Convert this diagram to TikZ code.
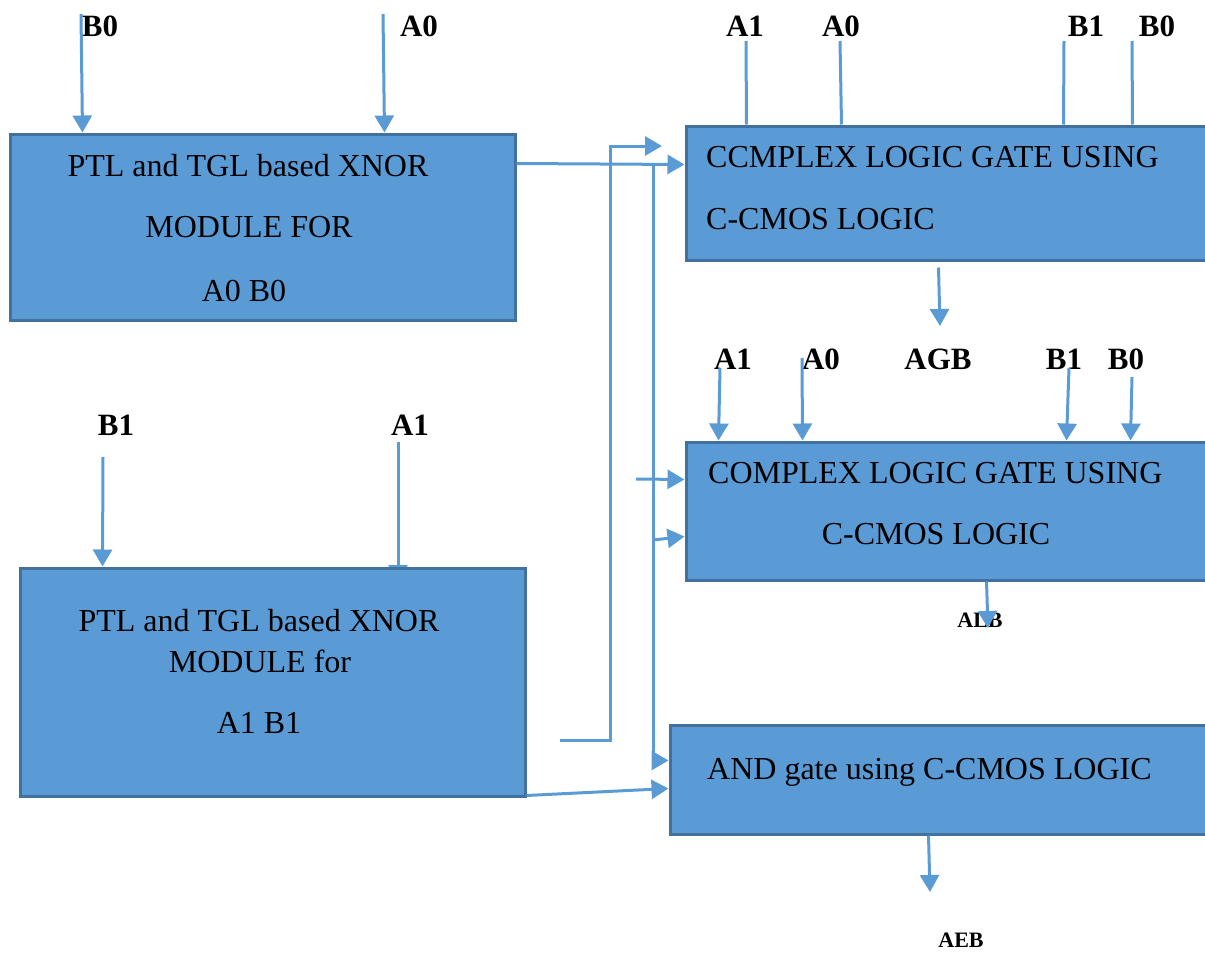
\documentclass[tikz,border=0pt]{standalone}
\usepackage{fontspec}
\setmainfont{Liberation Serif}
\usetikzlibrary{arrows.meta,calc}
\definecolor{boxfill}{HTML}{5B9BD5}
\definecolor{boxline}{HTML}{41719C}
\definecolor{wire}{HTML}{5B9BD5}
\tikzset{
  blk/.style={rectangle,draw=boxline,fill=boxfill,line width=3pt,inner sep=0pt},
  boxtxt/.style={inner sep=0pt,anchor=base,font=\fontsize{32}{38}\selectfont},
  boxtxtl/.style={inner sep=0pt,anchor=base west,font=\fontsize{32}{38}\selectfont},
  sig/.style={inner sep=0pt,anchor=base,font=\fontsize{31}{36}\selectfont\bfseries},
  outlab/.style={inner sep=0pt,anchor=base,font=\fontsize{22}{26}\selectfont\bfseries},
  wireln/.style={draw=wire,line width=3pt},
  arr/.style={wireln,-{Triangle[length=17pt,width=19pt]}}
}
\begin{document}
\begin{tikzpicture}[x=1pt,y=-1pt]
\useasboundingbox (0,0) rectangle (1205,953);
% A1 input of lower module (head partly hidden by the box)
\coordinate (a1ls) at (398,442);
\coordinate (a1le) at (398,582);
\draw[arr] (a1ls) -- (a1le);
% blocks
\node[blk,minimum width=505pt,minimum height=186pt] (x1) at (262.5,227) {};
\node[blk,minimum width=505pt,minimum height=228pt] (x2) at (272.5,682) {};
\node[blk,minimum width=529pt,minimum height=134pt] (c1) at (950.5,193) {};
\node[blk,minimum width=529pt,minimum height=138pt] (c2) at (950.5,511) {};
\node[blk,minimum width=545pt,minimum height=109pt] (ag) at (942.5,779.5) {};
% block texts
\node[boxtxt] (t11) at (248,176) {PTL and TGL based XNOR};
\node[boxtxt] (t12) at (249,237) {MODULE FOR};
\node[boxtxt] (t13) at (244,301) {A0 B0};
\node[boxtxt] (t21) at (259,631) {PTL and TGL based XNOR};
\node[boxtxt] (t22) at (260,672) {MODULE for};
\node[boxtxt] (t23) at (259,733) {A1 B1};
\node[boxtxtl] (t31) at (706,167) {CCMPLEX LOGIC GATE USING};
\node[boxtxtl] (t32) at (706,229) {C-CMOS LOGIC};
\node[boxtxtl] (t41) at (708,483) {COMPLEX LOGIC GATE USING};
\node[boxtxt] (t42) at (936,544) {C-CMOS LOGIC};
\node[boxtxtl] (t51) at (707,779) {AND gate using C-CMOS LOGIC};
% signal labels
\node[sig] (lb0) at (100,36.5) {B0};
\node[sig] (la0) at (419,36.5) {A0};
\node[sig] (ra1) at (745,36.5) {A1};
\node[sig] (ra0) at (841,36.5) {A0};
\node[sig] (rb1) at (1086,36.5) {B1};
\node[sig] (rb0) at (1157,36.5) {B0};
\node[sig] (ma1) at (733,369) {A1};
\node[sig] (ma0) at (821,369) {A0};
\node[sig] (agb) at (938,369) {AGB};
\node[sig] (mb1) at (1064,369) {B1};
\node[sig] (mb0) at (1126,369) {B0};
\node[sig] (lb1) at (116,435) {B1};
\node[sig] (la1) at (410,435) {A1};
\node[outlab] (alb) at (980,627.5) {ALB};
\node[outlab] (aeb) at (961,947.5) {AEB};
% free ends
\coordinate (b0s) at (81,14);
\coordinate (a0s) at (383,14);
\coordinate (ra1s) at (746,41);
\coordinate (ra0s) at (840,41);
\coordinate (rb1s) at (1064,41);
\coordinate (rb0s) at (1132,41);
\coordinate (ma1s) at (720,368);
\coordinate (ma0s) at (802,358);
\coordinate (mb1s) at (1069,368);
\coordinate (mb0s) at (1132,377);
\coordinate (lb1s) at (103,457);
\coordinate (s2) at (560,740);
\coordinate (k1) at (610,146);
\coordinate (k2) at (662,146);
\coordinate (j1) at (653,166);
\coordinate (f1) at (636,479);
\coordinate (f2) at (653,540);
\coordinate (o1) at (940,326);
\coordinate (o2) at (988,628);
\coordinate (o3) at (930,892);
% inputs of upper module
\draw[arr] (b0s) -- ($(x1.north west)+(74,0)$);
\draw[arr] (a0s) -- ($(x1.north west)+(376,0)$);
% inputs of first complex gate (plain lines)
\draw[wireln] (ra1s) -- ($(c1.north west)+(62,0)$);
\draw[wireln] (ra0s) -- ($(c1.north west)+(157,0)$);
\draw[wireln] (rb1s) -- ($(c1.north west)+(379,0)$);
\draw[wireln] (rb0s) -- ($(c1.north west)+(448,0)$);
% inputs of second complex gate
\draw[arr] (ma1s) -- ($(c2.north west)+(34,0)$);
\draw[arr] (ma0s) -- ($(c2.north west)+(118,0)$);
\draw[arr] (mb1s) -- ($(c2.north west)+(382,0)$);
\draw[arr] (mb0s) -- ($(c2.north west)+(446,0)$);
% B1 input of lower module
\draw[arr] (lb1s) -- ($(x2.north west)+(84,0)$);
% module outputs
\draw[arr] ($(x1.north east)+(0,31)$) -- ($(c1.north west)+(0,40)$);
\draw[arr] (s2) -| (k1) -- (k2);
\draw[arr] (j1) |- ($(ag.north west)+(0,37)$);
\draw[arr] (f1) -- ($(c2.north west)+(0,39)$);
\draw[arr] (f2) -- ($(c2.north west)+(0,96)$);
\draw[arr] ($(x2.south east)+(0,-2)$) -- ($(ag.north west)+(0,65)$);
% gate outputs
\draw[arr] ($(c1.south west)+(254,6)$) -- (o1);
\draw[arr] ($(c2.south west)+(302,0)$) -- (o2);
\draw[arr] ($(ag.south west)+(260,0)$) -- (o3);
\end{tikzpicture}
\end{document}
